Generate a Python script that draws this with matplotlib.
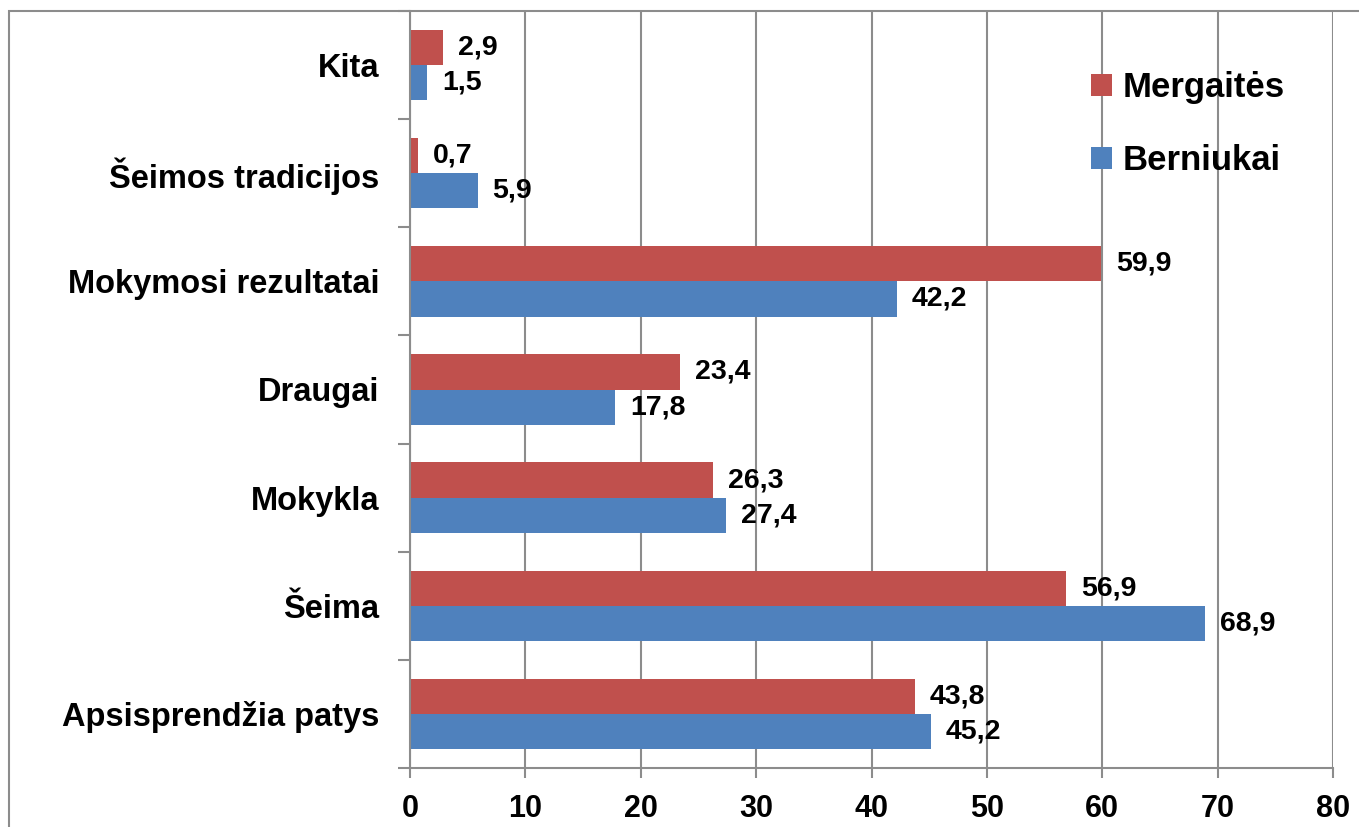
import matplotlib
matplotlib.use("Agg")
import matplotlib.pyplot as plt
import numpy as np
from matplotlib.patches import Rectangle, Patch

plt.rcParams['font.family'] = ['Liberation Sans', 'DejaVu Sans']
plt.rcParams['font.weight'] = 'bold'

categories = ["Apsisprendžia patys", "Šeima", "Mokykla", "Draugai",
              "Mokymosi rezultatai", "Šeimos tradicijos", "Kita"]
mergaites = [43.8, 56.9, 26.3, 23.4, 59.9, 0.7, 2.9]
berniukai = [45.2, 68.9, 27.4, 17.8, 42.2, 5.9, 1.5]
value_ticks = [0, 10, 20, 30, 40, 50, 60, 70, 80]

RED = "#C0504D"
BLUE = "#4F81BD"
GRAY = "#8C8C8C"

W, H = 1359, 827
fig = plt.figure(figsize=(W / 100, H / 100), dpi=100)
ax = fig.add_axes([410 / W, (H - 768) / H, (1333 - 410) / W, (768 - 11) / H])

y = np.arange(len(categories))
h = 0.325
ax.barh(y + h / 2, mergaites, height=h, color=RED, label="Mergaitės", zorder=3)
ax.barh(y - h / 2, berniukai, height=h, color=BLUE, label="Berniukai", zorder=3)

for yi, v in zip(y, mergaites):
    ax.annotate(f"{v:.1f}".replace(".", ","), (v, yi + h / 2), xytext=(10.5, 0),
                textcoords="offset points", va="center", ha="left",
                fontsize=20.5, fontweight="bold", zorder=4)
for yi, v in zip(y, berniukai):
    ax.annotate(f"{v:.1f}".replace(".", ","), (v, yi - h / 2), xytext=(10.5, 0),
                textcoords="offset points", va="center", ha="left",
                fontsize=20.5, fontweight="bold", zorder=4)

ax.set_xlim(0, 80)
ax.set_ylim(-0.5, len(categories) - 0.5)
ax.set_xticks(value_ticks)
ax.set_xticklabels([str(t) for t in value_ticks], fontsize=22, fontweight="bold")
ax.set_yticks(y)
ax.set_yticklabels(categories, fontsize=23.5, fontweight="bold")
ax.set_yticks(np.arange(-0.5, len(categories), 1.0), minor=True)
ax.tick_params(axis="y", which="major", length=0, pad=22)
ax.tick_params(axis="y", which="minor", length=9, width=1.5, color=GRAY, direction="out")
ax.tick_params(axis="x", which="major", length=7, width=1.5, color=GRAY, direction="out", pad=12)

ax.grid(axis="x", color=GRAY, linewidth=1.5, zorder=0)
for s in ["top", "right"]:
    ax.spines[s].set_visible(False)
for s in ["left", "bottom"]:
    ax.spines[s].set_color(GRAY)
    ax.spines[s].set_linewidth(1.5)
    ax.spines[s].set_zorder(5)

# figure border
fig.patches.append(Rectangle((9 / W, -0.2), 1.5, 1.2 - 11 / H, transform=fig.transFigure,
                             fill=False, edgecolor=GRAY, linewidth=1.5, zorder=10))

handles = [Patch(facecolor=RED, label="Mergaitės"), Patch(facecolor=BLUE, label="Berniukai")]
leg = ax.legend(handles=handles, loc="upper left", bbox_to_anchor=(1060 / W, 1 - 40 / H),
                bbox_transform=fig.transFigure, frameon=False,
                handlelength=0.6, handleheight=0.6, handletextpad=0.3, labelspacing=1.15,
                prop={"weight": "bold", "size": 25})

fig.savefig("out.png", dpi=100)
